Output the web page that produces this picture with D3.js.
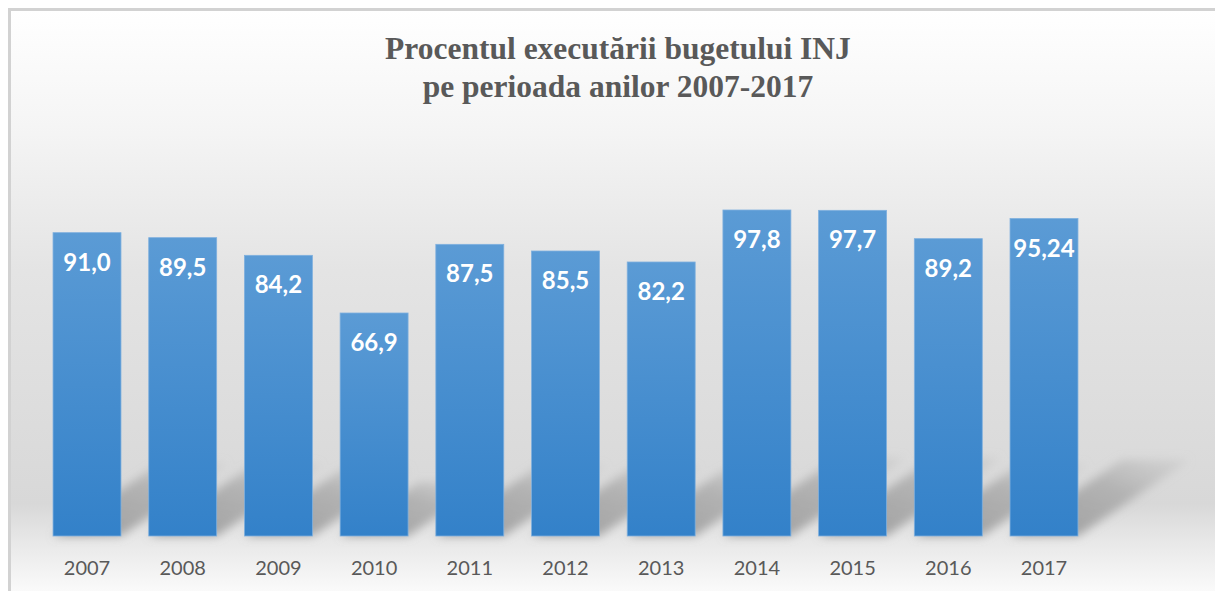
<!DOCTYPE html>
<html>
<head>
<meta charset="utf-8">
<script src="https://cdn.jsdelivr.net/npm/d3@7"></script>
<style>
  body { margin: 0; background: #ffffff; }
  svg { display: block; }
</style>
</head>
<body>
<div id="gr"></div>
<script>
var years = ["2007", "2008", "2009", "2010", "2011", "2012", "2013", "2014", "2015", "2016", "2017"];
var values = [91.0, 89.5, 84.2, 66.9, 87.5, 85.5, 82.2, 97.8, 97.7, 89.2, 95.24];
var valueLabels = ["91,0", "89,5", "84,2", "66,9", "87,5", "85,5", "82,2", "97,8", "97,7", "89,2", "95,24"];
var titleLines = ["Procentul executării bugetului INJ", "pe perioada anilor 2007-2017"];

var width = 1215,
  height = 591;

var svg = d3.select("#gr").append("svg").
attr("width", width).
attr("height", height);

var defs = svg.append("defs");

// chart area background: white at top, grey towards the floor, lighter again below
var bg = defs.append("linearGradient").
attr("id", "bg").
attr("gradientUnits", "userSpaceOnUse").
attr("x1", 0).attr("y1", 9).attr("x2", 0).attr("y2", 591);
[[0, "#ffffff"], [0.2, "#f5f5f5"], [0.45, "#e4e4e4"], [0.85, "#d8d8d8"], [0.92, "#e9e9e9"], [1, "#fafafa"]].forEach(function (s) {
  bg.append("stop").attr("offset", s[0]).attr("stop-color", s[1]);
});

var barGrad = defs.append("linearGradient").
attr("id", "barGrad").
attr("x1", 0).attr("y1", 0).attr("x2", 0).attr("y2", 1);
barGrad.append("stop").attr("offset", 0).attr("stop-color", "#5b9bd5");
barGrad.append("stop").attr("offset", 1).attr("stop-color", "#3381c9");

var shGrad = defs.append("linearGradient").
attr("id", "shGrad").
attr("x1", 0).attr("y1", 1).attr("x2", 1).attr("y2", 0);
shGrad.append("stop").attr("offset", 0).attr("stop-color", "#888888").attr("stop-opacity", 0.8);
shGrad.append("stop").attr("offset", 0.6).attr("stop-color", "#9f9f9f").attr("stop-opacity", 0.65);
shGrad.append("stop").attr("offset", 1).attr("stop-color", "#bbbbbb").attr("stop-opacity", 0.25);

defs.append("filter").
attr("id", "blur").
attr("x", "-30%").attr("y", "-30%").attr("width", "160%").attr("height", "160%").
append("feGaussianBlur").
attr("stdDeviation", 5);

svg.append("rect").
attr("x", 9.5).
attr("y", 9.5).
attr("width", width).
attr("height", height).
attr("fill", "url(#bg)").
attr("stroke", "#d2d2d2").
attr("stroke-width", 3);

var xScale = d3.scaleBand().
domain(years).
range([39.15, 1091.85]).
paddingInner(0.29).
paddingOuter(0.145);

var yScale = d3.scaleLinear().
domain([0, 120]).
range([536, 136]);

var data = years.map(function (y, i) {
  return { year: y, value: values[i], label: valueLabels[i] };
});

// perspective shadows on the floor
svg.append("g").
attr("filter", "url(#blur)").
selectAll("path").
data(data).
enter().
append("path").
attr("fill", "url(#shGrad)").
attr("d", function (d) {
  var x0 = xScale(d.year),
    x1 = x0 + xScale.bandwidth(),
    yb = yScale(0),
    h = yScale(0) - yScale(d.value),
    dx = h * 0.353,
    dy = h * 0.24;
  return "M" + x0 + "," + yb + "L" + x1 + "," + yb + "L" + (x1 + dx) + "," + (yb - dy) + "L" + (x0 + dx) + "," + (yb - dy) + "Z";
});

svg.selectAll(".bar").
data(data).
enter().
append("rect").
attr("class", "bar").
attr("x", function (d) {return xScale(d.year);}).
attr("y", function (d) {return yScale(d.value);}).
attr("width", xScale.bandwidth()).
attr("height", function (d) {return yScale(0) - yScale(d.value);}).
attr("fill", "url(#barGrad)").
attr("stroke", "#7fb0de").
attr("stroke-width", 0.8);

svg.selectAll(".val").
data(data).
enter().
append("text").
attr("class", "val").
attr("x", function (d) {return xScale(d.year) + xScale.bandwidth() / 2;}).
attr("y", function (d) {return yScale(d.value) + 38;}).
attr("text-anchor", "middle").
attr("fill", "#ffffff").
style("font-family", "Lato, 'Open Sans', sans-serif").
style("font-weight", "bold").
style("font-size", "24px").
text(function (d) {return d.label;});

var xAxis = d3.axisBottom(xScale).tickSize(0).tickPadding(0);

var xg = svg.append("g").
attr("transform", "translate(0,575)").
call(xAxis);
xg.select(".domain").remove();
xg.selectAll("text").
attr("dy", 0).
attr("fill", "#595959").
style("font-family", "Lato, 'Open Sans', sans-serif").
style("font-size", "20px");

svg.selectAll(".title").
data(titleLines).
enter().
append("text").
attr("class", "title").
attr("x", 618).
attr("y", function (d, i) {return 59 + i * 38;}).
attr("text-anchor", "middle").
attr("fill", "#595959").
style("font-family", "'Liberation Serif', 'Times New Roman', serif").
style("font-weight", "bold").
style("font-size", "31.5px").
text(function (d) {return d;});
</script>
</body>
</html>
